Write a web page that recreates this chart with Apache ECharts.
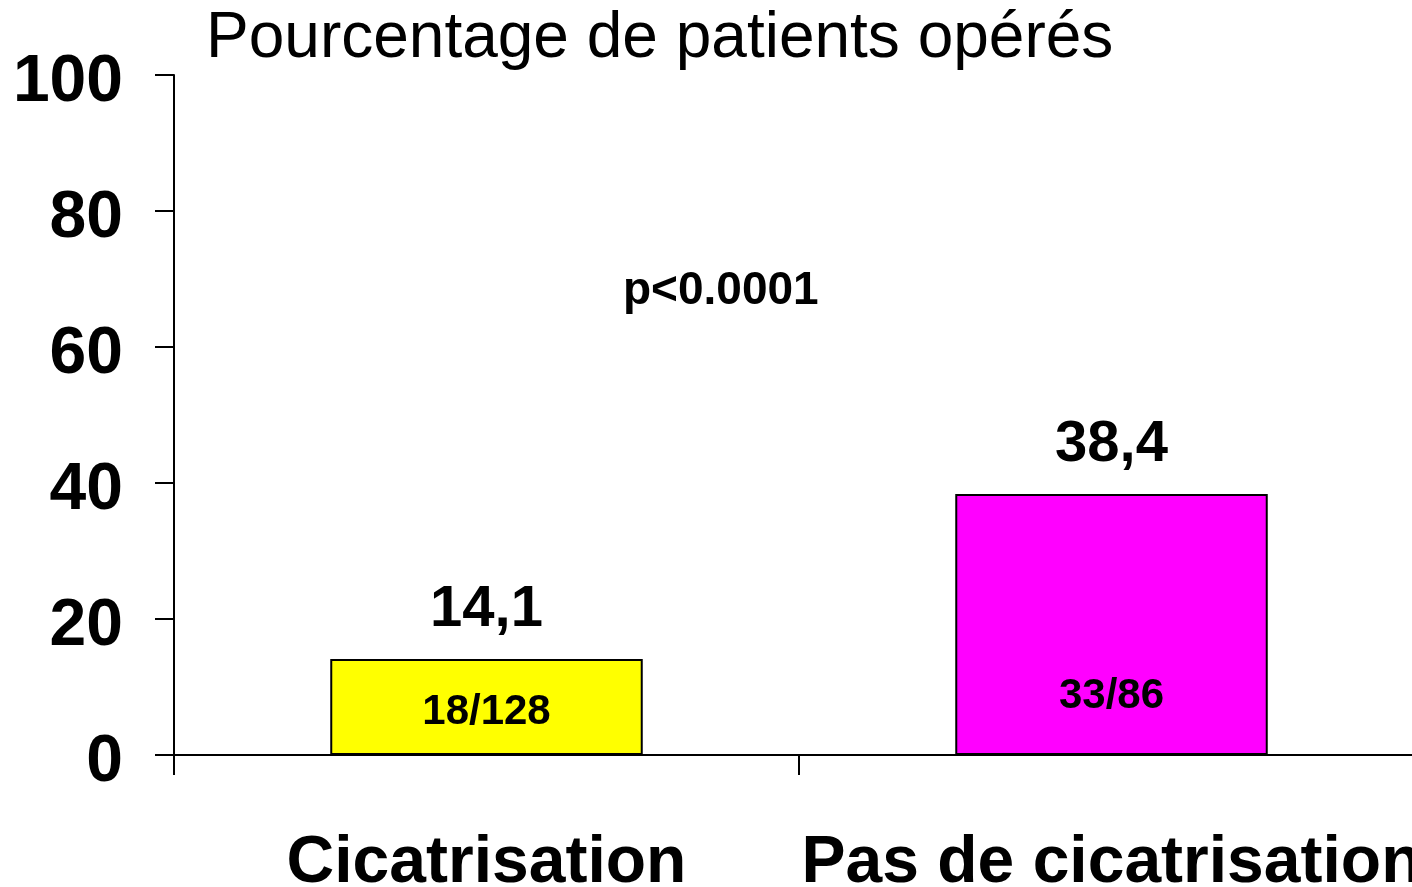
<!DOCTYPE html>
<html>
  <head>
    <meta charset="utf-8">
    <title>Pourcentage de patients opérés</title>
    <script src="https://cdn.jsdelivr.net/npm/echarts@6/dist/echarts.min.js"></script>
    <style>
      html, body { margin: 0; padding: 0; background: #fff; overflow: hidden; }
      #main { width: 1412px; height: 887px; }
    </style>
  </head>
  <body>
    <div id="main"></div>
    <script type="text/javascript">
      // donnees
      var categories = ['Cicatrisation', 'Pas de cicatrisation'];
      var percents = [14.1, 38.4];
      var valueLabels = ['14,1', '38,4'];
      var counts = ['18/128', '33/86'];
      var barColors = ['#ffff00', '#ff00ff'];
      var yTicks = [0, 20, 40, 60, 80, 100];

      var FONT = 'Liberation Sans, Arial, sans-serif';
      var myChart = echarts.init(document.getElementById('main'));

      var barData = percents.map(function (v, i) {
        return {
          value: v,
          itemStyle: { color: barColors[i] },
          label: { formatter: valueLabels[i] }
        };
      });
      // effectifs ecrits dans les barres
      var countData = percents.map(function (v, i) {
        return {
          value: v,
          label: { formatter: counts[i], distance: i === 0 ? 22 : 38 }
        };
      });

      myChart.setOption({
        animation: false,
        title: {
          text: 'Pourcentage de patients opérés',
          left: 201,
          top: 2,
          textStyle: { fontFamily: FONT, fontSize: 64, fontWeight: 'normal', color: '#000' }
        },
        grid: { left: 174, top: 75, bottom: 132, width: 1250, outerBoundsMode: 'none', containLabel: false },
        xAxis: {
          type: 'category',
          data: categories,
          axisLine: { lineStyle: { color: '#000', width: 2 } },
          axisTick: { show: true, length: 20, lineStyle: { color: '#000', width: 2 } },
          axisLabel: {
            interval: 0,
            margin: 76,
            hideOverlap: false,
            color: '#000',
            fontFamily: FONT,
            fontSize: 66,
            fontWeight: 'bold'
          }
        },
        yAxis: {
          type: 'value',
          min: yTicks[0],
          max: yTicks[yTicks.length - 1],
          interval: 20,
          splitLine: { show: false },
          axisLine: { show: true, lineStyle: { color: '#000', width: 2 } },
          axisTick: { show: true, length: 19, lineStyle: { color: '#000', width: 2 } },
          axisLabel: {
            margin: 51,
            formatter: '{v|{value}}',
            rich: {
              v: {
                padding: [15, 0, 0, 0],
                color: '#000',
                fontFamily: FONT,
                fontSize: 66,
                fontWeight: 'bold'
              }
            }
          }
        },
        series: [
          {
            type: 'bar',
            data: barData,
            barWidth: '50%',
            itemStyle: { borderColor: '#000', borderWidth: 2 },
            label: {
              show: true,
              position: 'top',
              distance: 20,
              color: '#000',
              fontFamily: FONT,
              fontSize: 58,
              fontWeight: 'bold'
            },
            z: 2
          },
          {
            type: 'bar',
            data: countData,
            barWidth: '50%',
            barGap: '-100%',
            itemStyle: { color: 'transparent' },
            label: {
              show: true,
              position: 'insideBottom',
              color: '#000',
              fontFamily: FONT,
              fontSize: 42,
              fontWeight: 'bold'
            },
            z: 3
          }
        ],
        graphic: [
          {
            type: 'text',
            left: 623,
            top: 268,
            style: {
              text: 'p<0.0001',
              fill: '#000',
              font: 'bold 46px ' + FONT
            }
          }
        ]
      });
    </script>
  </body>
</html>
